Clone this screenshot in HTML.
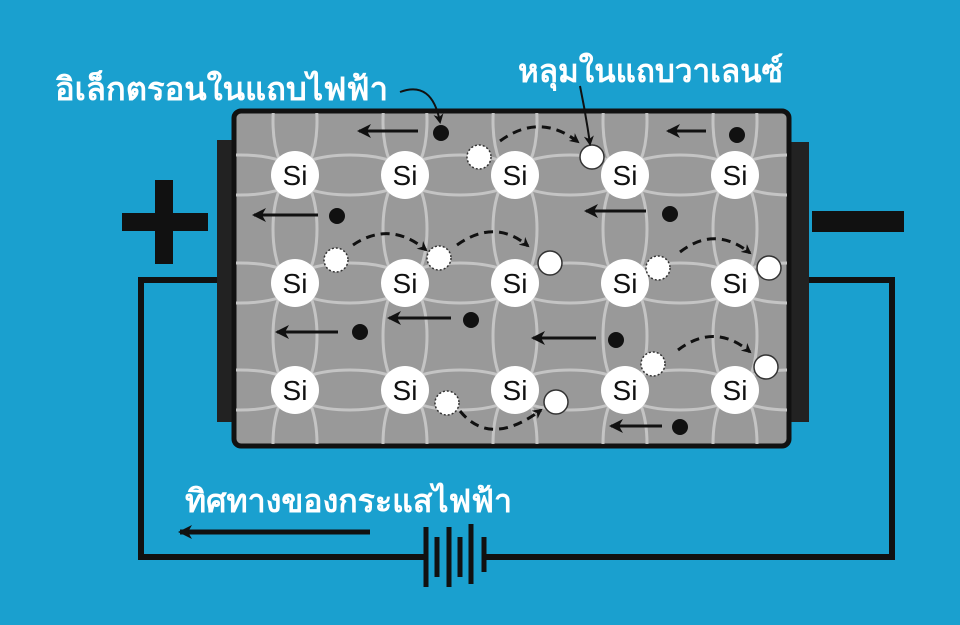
<!DOCTYPE html>
<html><head><meta charset="utf-8"><style>
html,body{margin:0;padding:0;background:#1aa0cf;}
svg{display:block}
text.th{font-family:"Liberation Sans","Noto Sans CJK SC",sans-serif;font-weight:bold;fill:#fff;font-size:32px}
text.si{font-family:"Liberation Sans",sans-serif;font-size:28px;fill:#111;text-anchor:middle}
</style></head><body>
<svg width="960" height="625" viewBox="0 0 960 625" xmlns="http://www.w3.org/2000/svg">
<defs>
<marker id="ah" markerWidth="10" markerHeight="10" refX="8" refY="5" orient="auto" markerUnits="userSpaceOnUse" viewBox="0 0 10 10"><path d="M0,0 L10,5 L0,10 L3,5 z" fill="#111"/></marker>
<marker id="ah2" markerWidth="14" markerHeight="14" refX="12" refY="7" orient="auto" markerUnits="userSpaceOnUse" viewBox="0 0 14 14"><path d="M0,0 L14,7 L0,14 L4,7 z" fill="#111"/></marker>
<marker id="ah3" markerWidth="26" markerHeight="22" refX="24" refY="11" orient="auto" markerUnits="userSpaceOnUse" viewBox="0 0 26 22"><path d="M0,11 L26,0 L16,11 L26,22 z" fill="#111" transform="rotate(180 13 11)"/></marker>
<clipPath id="bx"><rect x="236" y="113" width="551" height="331" rx="6"/></clipPath>
</defs>
<rect width="960" height="625" fill="#1aa0cf"/>
<path d="M218,280 H141 V557 H426" fill="none" stroke="#111" stroke-width="6"/>
<path d="M808,280 H892 V557 H486" fill="none" stroke="#111" stroke-width="6"/>
<g stroke="#111" stroke-width="5">
<line x1="426" y1="527" x2="426" y2="587"/><line x1="437" y1="537" x2="437" y2="577"/>
<line x1="449" y1="527" x2="449" y2="587"/><line x1="460" y1="537" x2="460" y2="577"/>
<line x1="471" y1="524" x2="471" y2="584"/><line x1="484" y1="537" x2="484" y2="572"/>
</g>
<rect x="122" y="213" width="86" height="18" fill="#111"/>
<rect x="155" y="180" width="18" height="84" fill="#111"/>
<rect x="812" y="211" width="92" height="21" fill="#111"/>
<rect x="217" y="140" width="20" height="282" fill="#222"/>
<rect x="788" y="142" width="21" height="280" fill="#222"/>
<rect x="234" y="111" width="555" height="335" rx="7" fill="#999" stroke="#111" stroke-width="5"/>
<g clip-path="url(#bx)" fill="none" stroke="#c4c4c4" stroke-width="3">
<ellipse cx="350" cy="175" rx="58" ry="20"/><ellipse cx="460" cy="175" rx="58" ry="20"/><ellipse cx="570" cy="175" rx="58" ry="20"/><ellipse cx="680" cy="175" rx="58" ry="20"/><ellipse cx="240" cy="175" rx="58" ry="20"/><ellipse cx="790" cy="175" rx="58" ry="20"/>
<ellipse cx="350" cy="283" rx="58" ry="20"/><ellipse cx="460" cy="283" rx="58" ry="20"/><ellipse cx="570" cy="283" rx="58" ry="20"/><ellipse cx="680" cy="283" rx="58" ry="20"/><ellipse cx="240" cy="283" rx="58" ry="20"/><ellipse cx="790" cy="283" rx="58" ry="20"/>
<ellipse cx="350" cy="390" rx="58" ry="20"/><ellipse cx="460" cy="390" rx="58" ry="20"/><ellipse cx="570" cy="390" rx="58" ry="20"/><ellipse cx="680" cy="390" rx="58" ry="20"/><ellipse cx="240" cy="390" rx="58" ry="20"/><ellipse cx="790" cy="390" rx="58" ry="20"/>
<ellipse cx="295" cy="229" rx="22" ry="56"/><ellipse cx="405" cy="229" rx="22" ry="56"/><ellipse cx="515" cy="229" rx="22" ry="56"/><ellipse cx="625" cy="229" rx="22" ry="56"/><ellipse cx="735" cy="229" rx="22" ry="56"/>
<ellipse cx="295" cy="336" rx="22" ry="56"/><ellipse cx="405" cy="336" rx="22" ry="56"/><ellipse cx="515" cy="336" rx="22" ry="56"/><ellipse cx="625" cy="336" rx="22" ry="56"/><ellipse cx="735" cy="336" rx="22" ry="56"/>
<ellipse cx="295" cy="121" rx="22" ry="56"/><ellipse cx="405" cy="121" rx="22" ry="56"/><ellipse cx="515" cy="121" rx="22" ry="56"/><ellipse cx="625" cy="121" rx="22" ry="56"/><ellipse cx="735" cy="121" rx="22" ry="56"/>
<ellipse cx="295" cy="444" rx="22" ry="56"/><ellipse cx="405" cy="444" rx="22" ry="56"/><ellipse cx="515" cy="444" rx="22" ry="56"/><ellipse cx="625" cy="444" rx="22" ry="56"/><ellipse cx="735" cy="444" rx="22" ry="56"/>
</g>
<g fill="#fff">
<circle cx="295" cy="175" r="24"/><circle cx="405" cy="175" r="24"/><circle cx="515" cy="175" r="24"/><circle cx="625" cy="175" r="24"/><circle cx="735" cy="175" r="24"/>
<circle cx="295" cy="283" r="24"/><circle cx="405" cy="283" r="24"/><circle cx="515" cy="283" r="24"/><circle cx="625" cy="283" r="24"/><circle cx="735" cy="283" r="24"/>
<circle cx="295" cy="390" r="24"/><circle cx="405" cy="390" r="24"/><circle cx="515" cy="390" r="24"/><circle cx="625" cy="390" r="24"/><circle cx="735" cy="390" r="24"/>
</g>
<g>
<text class="si" x="295" y="185">Si</text><text class="si" x="405" y="185">Si</text><text class="si" x="515" y="185">Si</text><text class="si" x="625" y="185">Si</text><text class="si" x="735" y="185">Si</text>
<text class="si" x="295" y="293">Si</text><text class="si" x="405" y="293">Si</text><text class="si" x="515" y="293">Si</text><text class="si" x="625" y="293">Si</text><text class="si" x="735" y="293">Si</text>
<text class="si" x="295" y="400">Si</text><text class="si" x="405" y="400">Si</text><text class="si" x="515" y="400">Si</text><text class="si" x="625" y="400">Si</text><text class="si" x="735" y="400">Si</text>
</g>
<g fill="#111">
<circle cx="441" cy="133" r="8"/><circle cx="737" cy="135" r="8"/><circle cx="337" cy="216" r="8"/><circle cx="670" cy="214" r="8"/>
<circle cx="360" cy="332" r="8"/><circle cx="471" cy="320" r="8"/><circle cx="616" cy="340" r="8"/><circle cx="680" cy="427" r="8"/>
</g>
<g stroke="#111" stroke-width="3" marker-end="url(#ah2)">
<line x1="418" y1="131" x2="359" y2="131"/><line x1="706" y1="131" x2="668" y2="131"/>
<line x1="318" y1="215" x2="254" y2="215"/><line x1="646" y1="211" x2="586" y2="211"/>
<line x1="338" y1="332" x2="277" y2="332"/><line x1="451" y1="318" x2="389" y2="318"/>
<line x1="596" y1="338" x2="533" y2="338"/><line x1="662" y1="426" x2="611" y2="426"/>
</g>
<g fill="none" stroke="#111" stroke-width="3" stroke-dasharray="9,6" marker-end="url(#ah)">
<path d="M500,141 Q540,112 578,142"/>
<path d="M353,245 Q390,220 426,250"/>
<path d="M457,245 Q495,218 528,246"/>
<path d="M680,252 Q715,225 750,253"/>
<path d="M678,350 Q715,322 750,352"/>
<path d="M460,411 Q490,448 541,410"/>
</g>
<g fill="#fff" stroke="#333" stroke-width="1.5" stroke-dasharray="2,2">
<circle cx="479" cy="157" r="12"/><circle cx="336" cy="260" r="12"/><circle cx="439" cy="258" r="12"/>
<circle cx="658" cy="268" r="12"/><circle cx="653" cy="364" r="12"/><circle cx="447" cy="403" r="12"/>
</g>
<g fill="#fff" stroke="#333" stroke-width="1.5">
<circle cx="592" cy="157" r="12"/><circle cx="550" cy="263" r="12"/><circle cx="769" cy="268" r="12"/>
<circle cx="766" cy="367" r="12"/><circle cx="556" cy="402" r="12"/>
</g>
<text class="th" x="55" y="100" textLength="333" lengthAdjust="spacingAndGlyphs">อิเล็กตรอนในแถบไฟฟ้า</text>
<text class="th" x="518" y="82" textLength="265" lengthAdjust="spacingAndGlyphs">หลุมในแถบวาเลนซ์</text>
<text class="th" x="185" y="512" textLength="327" lengthAdjust="spacingAndGlyphs">ทิศทางของกระแสไฟฟ้า</text>
<path d="M400,92 Q432,80 440,122" fill="none" stroke="#111" stroke-width="2" marker-end="url(#ah)"/>
<path d="M580,86 Q586,115 590,144" fill="none" stroke="#111" stroke-width="2" marker-end="url(#ah)"/>
<line x1="370" y1="532" x2="180" y2="532" stroke="#111" stroke-width="5" marker-end="url(#ah2)"/>
</svg>
</body></html>
